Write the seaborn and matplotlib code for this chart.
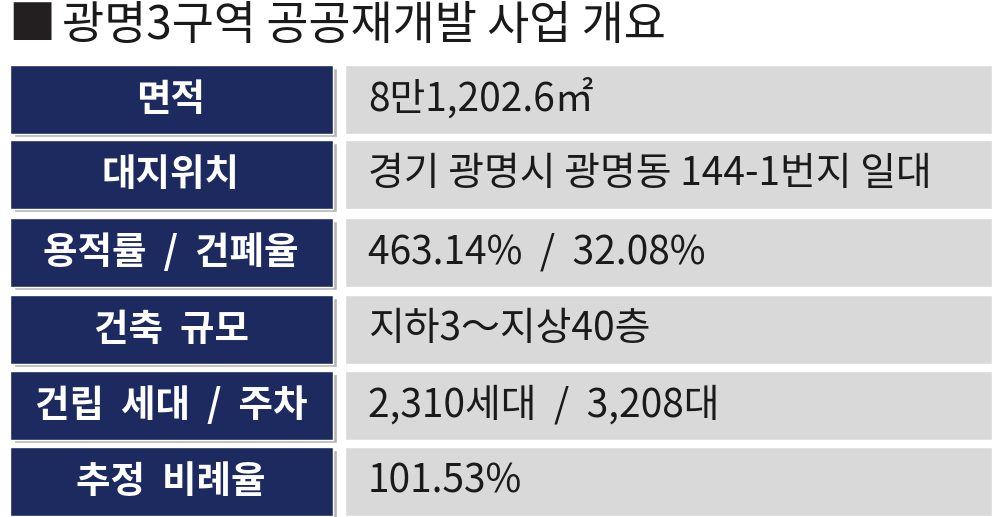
import matplotlib.pyplot as plt
import seaborn as sns

sns.set_theme(style='white')
plt.rcParams['font.family'] = ['Noto Sans CJK KR', 'DejaVu Sans']

title = '광명3구역 공공재개발 사업 개요'
items = ['면적', '대지위치', '용적률 / 건폐율', '건축 규모', '건립 세대 / 주차', '추정 비례율']
details = ['8만1,202.6㎡', '경기 광명시 광명동 144-1번지 일대', '463.14%  /  32.08%',
           '지하3～지상40층', '2,310세대  /  3,208대', '101.53%']

row_y = [99, 174.5, 252.5, 329, 405.5, 481.5]
navy = '#1c2a5f'
gray = '#d9d9d9'

fig = plt.figure(figsize=(10, 5.17), dpi=100)
ax = fig.add_axes([0, 0, 1, 1])
ax.set_xlim(0, 1000)
ax.set_ylim(517, 0)
ax.axis('off')

# shadow, left label cells, right value cells
ax.barh([y + 3 for y in row_y], 323, left=14, height=69, color='#b5b5b5', zorder=1)
ax.barh(row_y, 323, left=10, height=69, color=navy, zorder=2)
ax.barh(row_y, 647, left=345, height=69, color=gray, zorder=2)

for y, item, detail in zip(row_y, items, details):
    ax.text(171, y, item.replace(' ', '  '), color='white', fontsize=27, fontweight='heavy',
            ha='center', va='center', zorder=3)
    ax.text(368, y, detail, color='#1a1a1a', fontsize=28, ha='left', va='center', zorder=3)

ax.text(8, 26, '■', color='#231f20', fontsize=34, ha='left', va='center')
ax.text(62, 26, title, color='#1a1a1a', fontsize=33, ha='left', va='center')

fig.savefig('out.png', dpi=100)
